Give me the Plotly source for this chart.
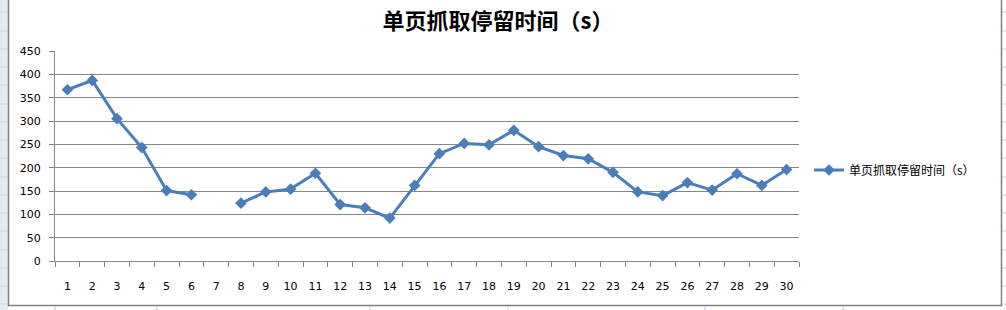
import plotly.graph_objects as go

# ---- data ----
categories = list(range(1, 31))
tick_labels = [str(c) for c in categories]
series_name = "单页抓取停留时间（s）"
values = [367, 387, 305, 243, 151, 142, None, 124, 148, 154,
          188, 121, 114, 92, 162, 230, 252, 249, 280, 245,
          226, 219, 190, 148, 140, 168, 152, 187, 162, 196]
y_ticks = list(range(0, 451, 50))

W, H = 1006, 310
L, R, T, B = 55, 799, 51, 261  # plot area in pixels

def px(x):
    return (x - L) / (R - L)

def py(y):
    return (B - y) / (B - T)

fig = go.Figure()
fig.add_trace(go.Scatter(
    x=categories, y=values, name=series_name, mode="lines+markers",
    connectgaps=False,
    line=dict(color="#4A7EBB", width=3),
    marker=dict(symbol="diamond", size=9, color="#4A7EBB"),
))

shapes = []
# spreadsheet area outside the chart
bg = "#E4EBF5"
shapes.append(dict(type="rect", xref="paper", yref="paper", x0=px(0), x1=px(8), y0=py(310), y1=py(0),
                   fillcolor=bg, line=dict(width=0), layer="below"))
row_lines = [12, 31, 49, 67, 85, 104, 122, 140, 158, 177, 195, 213, 231, 250, 268, 286, 304]
for yy in row_lines:
    shapes.append(dict(type="line", xref="paper", yref="paper", x0=px(0), x1=px(8), y0=py(yy), y1=py(yy),
                       line=dict(color="#C5D3E8", width=1), layer="below"))
    shapes.append(dict(type="line", xref="paper", yref="paper", x0=px(1002), x1=px(1006), y0=py(yy), y1=py(yy),
                       line=dict(color="#C5D3E8", width=1), layer="below"))
for xx in [55, 157, 370, 508, 705, 843]:
    shapes.append(dict(type="line", xref="paper", yref="paper", x0=px(xx), x1=px(xx), y0=py(306), y1=py(310),
                       line=dict(color="#C5D3E8", width=1), layer="below"))
# chart border
shapes.append(dict(type="rect", xref="paper", yref="paper", x0=px(8.5), x1=px(1001.5), y0=py(305.5), y1=py(-5),
                   line=dict(color="#808080", width=1.5), fillcolor="rgba(0,0,0,0)", layer="below"))

fig.update_layout(
    width=W, height=H,
    margin=dict(l=L, r=W - R, t=T, b=H - B, pad=0),
    paper_bgcolor="white", plot_bgcolor="white",
    title=dict(text=series_name, x=498 / W, xanchor="center", y=1 - 21 / H, yanchor="middle",
               font=dict(family="Noto Sans CJK SC", size=22, color="black", weight="bold")),
    font=dict(family="DejaVu Sans", size=11, color="black"),
    showlegend=True,
    legend=dict(x=px(809), xanchor="left", y=py(170), yanchor="middle",
                font=dict(family="Noto Sans CJK SC", size=12, color="black"),
                bgcolor="rgba(0,0,0,0)", itemwidth=30),
    shapes=shapes,
)
fig.update_xaxes(
    range=[0.5, 30.5], tickmode="array", tickvals=categories, ticktext=tick_labels,
    ticks="", showgrid=False, zeroline=False,
    showline=True, linecolor="#868686", linewidth=1,
    ticklabelstandoff=15,
    tickfont=dict(family="DejaVu Sans", size=11, color="black"),
    minor=dict(ticks="outside", tick0=0.5, dtick=1, ticklen=5, tickcolor="#868686", showgrid=False),
)
fig.update_yaxes(
    range=[0, 450], tickmode="array", tickvals=y_ticks,
    ticks="outside", ticklen=5, tickcolor="#868686",
    showgrid=True, gridcolor="#868686", gridwidth=1, zeroline=False,
    showline=True, linecolor="#868686", linewidth=1,
    ticklabelstandoff=6,
    tickfont=dict(family="DejaVu Sans", size=11, color="black"),
)

fig.write_html("out.html")
